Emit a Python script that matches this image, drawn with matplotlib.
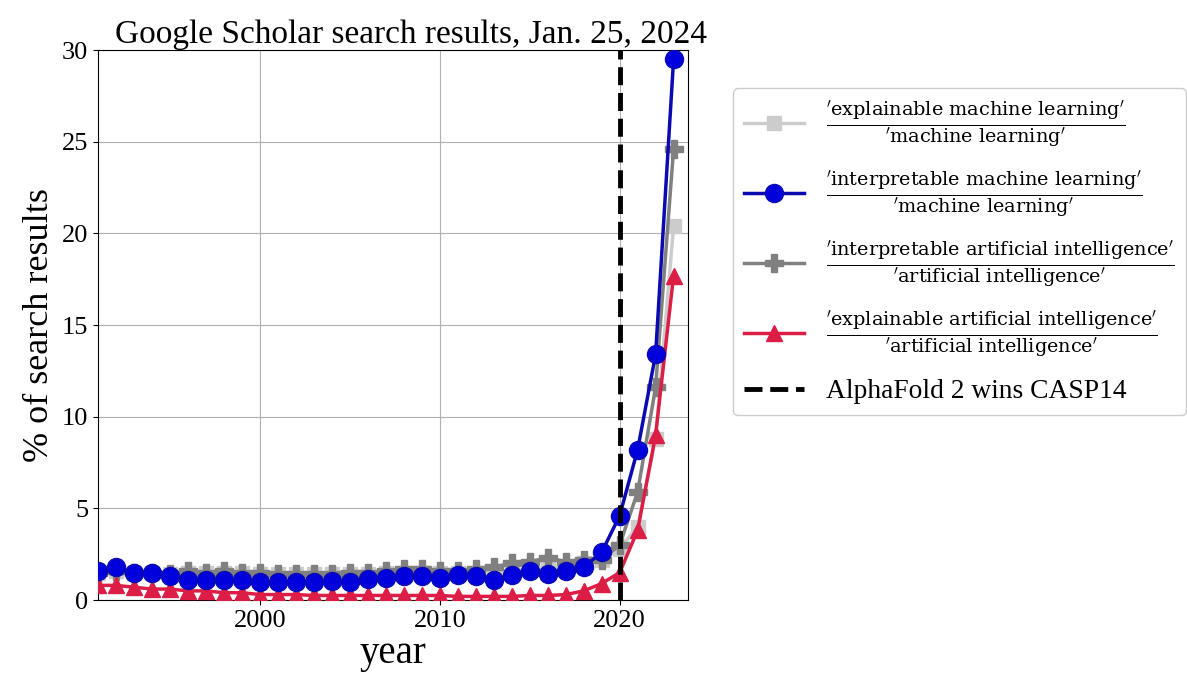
import matplotlib
matplotlib.use("Agg")
import matplotlib.pyplot as plt
import numpy as np

years = list(range(1991, 2024))
explainable_ml = [1.5, 1.6, 1.5, 1.5, 1.4, 1.5, 1.5, 1.5, 1.5, 1.4, 1.4, 1.4, 1.4, 1.4, 1.4, 1.4, 1.5, 1.5, 1.5, 1.5, 1.5, 1.5, 1.5, 1.6, 1.7, 1.8, 1.8, 2.0, 2.2, 2.8, 4.0, 8.8, 20.4]
interpretable_ml = [1.6, 1.8, 1.45, 1.5, 1.3, 1.1, 1.1, 1.1, 1.1, 1.0, 1.0, 1.0, 1.0, 1.05, 1.0, 1.15, 1.2, 1.3, 1.3, 1.2, 1.35, 1.3, 1.1, 1.35, 1.6, 1.4, 1.6, 1.8, 2.6, 4.6, 8.2, 13.4, 29.5]
interpretable_ai = [1.5, 1.6, 1.5, 1.5, 1.4, 1.6, 1.5, 1.6, 1.5, 1.5, 1.4, 1.4, 1.4, 1.4, 1.5, 1.5, 1.6, 1.7, 1.7, 1.6, 1.6, 1.7, 1.8, 2.0, 2.1, 2.3, 2.1, 2.2, 2.2, 3.0, 5.9, 11.6, 24.6]
explainable_ai = [0.8, 0.8, 0.7, 0.6, 0.6, 0.5, 0.5, 0.4, 0.4, 0.3, 0.3, 0.3, 0.25, 0.25, 0.25, 0.25, 0.25, 0.25, 0.25, 0.25, 0.2, 0.2, 0.2, 0.2, 0.25, 0.25, 0.3, 0.5, 0.9, 1.5, 3.8, 9.0, 17.7]
alphafold_year = 2020

labels = [
    r"$\frac{\mathrm{'explainable\ machine\ learning'}}{\mathrm{'machine\ learning'}}$",
    r"$\frac{\mathrm{'interpretable\ machine\ learning'}}{\mathrm{'machine\ learning'}}$",
    r"$\frac{\mathrm{'interpretable\ artificial\ intelligence'}}{\mathrm{'artificial\ intelligence'}}$",
    r"$\frac{\mathrm{'explainable\ artificial\ intelligence'}}{\mathrm{'artificial\ intelligence'}}$",
    "AlphaFold 2 wins CASP14",
]

plt.rcParams['font.family'] = ['Liberation Serif', 'DejaVu Serif']
plt.rcParams['mathtext.fontset'] = 'dejavuserif'

fig = plt.figure(figsize=(11.87, 6.85), dpi=100)
ax = fig.add_axes([0.0826, 0.124, 0.497, 0.803])

ax.plot(years, explainable_ml, color='#cccccc', marker='s', markersize=10, lw=2.5, label=labels[0], zorder=3)
ax.plot(years, interpretable_ml, color='#0a0ab0', marker='o', markersize=13, markerfacecolor='#0000dd', lw=2.5, label=labels[1], zorder=5)
ax.plot(years, interpretable_ai, color='#808080', marker='P', markersize=13, lw=2.5, label=labels[2], zorder=4)
ax.plot(years, explainable_ai, color='#dc1e46', marker='^', markersize=11, lw=2.5, label=labels[3], zorder=4)
ax.axvline(alphafold_year, color='black', ls='--', lw=3.5, label=labels[4], zorder=6)

ax.set_xlim(1991, 2023.8)
ax.set_ylim(0, 30)
ax.set_xticks([2000, 2010, 2020])
ax.set_yticks([0, 5, 10, 15, 20, 25, 30])
ax.tick_params(labelsize=19)
ax.grid(True, color='#b0b0b0', lw=0.8)
ax.set_axisbelow(True)
ax.set_xlabel('year', fontsize=28, labelpad=2)
ax.set_ylabel('% of search results', fontsize=26)
ax.set_title('Google Scholar search results, Jan. 25, 2024', fontsize=24, pad=4, x=0.53)

leg = fig.legend(loc='upper left', bbox_to_anchor=(0.6175, 0.8715), fontsize=19.8,
                 labelspacing=0.68, handlelength=2.2, handletextpad=0.8, borderpad=0.4,
                 borderaxespad=0.0, framealpha=1, edgecolor='#cccccc', fancybox=True)

fig.savefig('out.png', dpi=100)
